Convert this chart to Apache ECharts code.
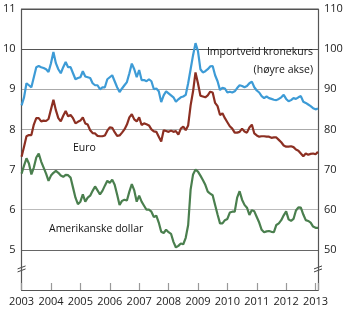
<!DOCTYPE html>
<html><head><meta charset="utf-8">
<script src="https://cdn.jsdelivr.net/npm/echarts@6/dist/echarts.min.js"></script>
<style>html,body{margin:0;padding:0;background:#fff}#c{width:350px;height:324px}</style>
</head><body><div id="c"></div>
<script>
// Monthly data, Jan 2003 .. Feb 2013
var startYear = 2003;
var yearTicks = [2003,2004,2005,2006,2007,2008,2009,2010,2011,2012,2013];
var leftTicks = [5,6,7,8,9,10,11];
var rightTicks = [50,60,70,80,90,100,110];
var importveid = [86,88,91.5,91,90.5,93,95.5,95.8,95.5,95.3,95,94.3,96.5,99.3,96.5,95,94,95.5,96.8,95.5,95.5,94,92.5,92.8,93,94.5,93.2,93,92.8,91.5,91,91,90,90.5,90.5,92.5,93,93.5,92,90.5,89.3,90.2,91,91.8,94,96.4,95,93,94.8,92.3,92.3,92,92.5,92,90,90.2,89.5,86.8,88.5,89.5,89,88.5,88,86.9,87.5,88,88.2,88.6,91.5,95,98.5,101.5,99.5,95,94.2,94.5,95,95.7,95.8,93.5,92,89.8,90.4,90.2,89.2,89.4,89.2,89.5,90.3,91,90.8,90.5,90.8,91.5,91.9,90.5,89.7,89.2,88.3,87.8,88.2,87.8,87.6,87.4,87.3,87.6,88,88.6,87.6,87,87.3,87.8,87.6,88,88.3,86.9,86.6,86.2,85.8,85.3,85,85.2];
var euro = [7.32,7.57,7.83,7.86,7.86,8.12,8.28,8.28,8.2,8.22,8.21,8.26,8.5,8.74,8.48,8.28,8.2,8.34,8.46,8.33,8.36,8.28,8.15,8.19,8.22,8.3,8.15,8.12,7.98,7.91,7.9,7.84,7.83,7.83,7.85,7.97,8.05,8.04,7.93,7.84,7.85,7.92,8.0,8.12,8.3,8.38,8.25,8.2,8.3,8.11,8.15,8.13,8.1,8.0,7.95,7.94,7.82,7.7,7.98,7.96,7.94,7.97,7.94,7.96,7.87,8.02,8.07,7.98,8.1,8.6,8.95,9.42,9.15,8.84,8.82,8.8,8.85,8.94,8.92,8.66,8.58,8.36,8.4,8.28,8.18,8.08,8.02,7.92,7.92,7.94,8.02,7.95,7.92,8.05,8.12,7.9,7.85,7.82,7.83,7.83,7.82,7.82,7.79,7.8,7.8,7.74,7.68,7.6,7.57,7.57,7.58,7.56,7.5,7.47,7.4,7.33,7.4,7.37,7.39,7.4,7.38,7.44];
var dollar = [6.9,7.1,7.28,7.15,6.88,7.05,7.3,7.4,7.2,7.05,6.9,6.72,6.85,6.92,6.97,6.92,6.85,6.82,6.87,6.86,6.8,6.55,6.3,6.14,6.2,6.38,6.2,6.3,6.35,6.47,6.58,6.48,6.38,6.47,6.6,6.72,6.67,6.75,6.62,6.38,6.12,6.22,6.25,6.23,6.45,6.64,6.48,6.2,6.35,6.2,6.1,6.0,6.0,5.95,5.82,5.85,5.68,5.45,5.42,5.5,5.44,5.4,5.2,5.06,5.1,5.16,5.14,5.3,5.62,6.5,6.88,7.0,6.95,6.85,6.74,6.62,6.45,6.4,6.36,6.12,5.88,5.66,5.66,5.74,5.77,5.93,5.95,5.95,6.3,6.46,6.25,6.12,6.05,5.87,5.99,5.96,5.82,5.68,5.5,5.44,5.46,5.47,5.45,5.44,5.62,5.66,5.74,5.86,5.96,5.76,5.72,5.77,5.98,6.06,6.05,5.88,5.74,5.72,5.68,5.58,5.55,5.55];

function toPairs(arr){ return arr.map(function(v,i){ return [startYear + i/12, v]; }); }
var xMax = startYear + (importveid.length-1)/12;
var FONT = 'Open Sans';
var chart = echarts.init(document.getElementById('c'), null, {renderer:'canvas'});
var gridColors = ['rgba(0,0,0,0)','#666','#bbb','#888','#aaa','#aaa','#555','#555'];
chart.setOption({
  animation:false,
  backgroundColor:'#fff',
  grid:{left:20,right:32,top:9,bottom:34},
  xAxis:{type:'value',min:startYear,max:xMax,interval:1,
    axisLine:{show:true,lineStyle:{color:'#555',width:1.2}},
    axisTick:{show:true,inside:true,length:7,lineStyle:{color:'#999',width:1.2}},
    axisLabel:{color:'#222',fontFamily:FONT,fontSize:11,margin:6,
      formatter:function(v){ return yearTicks.indexOf(Math.round(v))>=0 && Math.abs(v-Math.round(v))<1e-6 ? String(Math.round(v)) : ''; }},
    splitLine:{show:false}},
  yAxis:[{type:'value',min:4,max:11,interval:1,position:'left',
      axisLine:{show:true,lineStyle:{color:'#555',width:1.2}},
      axisTick:{show:false},
      axisLabel:{color:'#222',fontFamily:FONT,fontSize:11,margin:6,
        formatter:function(v){ return leftTicks.indexOf(v)>=0 ? String(v) : ''; }},
      splitLine:{show:true,lineStyle:{color:gridColors,width:1.2}}},
    {type:'value',min:40,max:110,interval:10,position:'right',
      axisLine:{show:true,lineStyle:{color:'#555',width:1.2}},
      axisTick:{show:false},
      axisLabel:{color:'#222',fontFamily:FONT,fontSize:11,margin:6,
        formatter:function(v){ return rightTicks.indexOf(v)>=0 ? String(v) : ''; }},
      splitLine:{show:false}}],
  series:[
    {name:'Importveid kronekurs',type:'line',yAxisIndex:1,data:toPairs(importveid),showSymbol:false,
      lineStyle:{color:'#3d9bd6',width:2.2},itemStyle:{color:'#3d9bd6'}},
    {name:'Euro',type:'line',yAxisIndex:0,data:toPairs(euro),showSymbol:false,
      lineStyle:{color:'#8c2f22',width:2.2},itemStyle:{color:'#8c2f22'}},
    {name:'Amerikanske dollar',type:'line',yAxisIndex:0,data:toPairs(dollar),showSymbol:false,
      lineStyle:{color:'#4a7f4e',width:2.2},itemStyle:{color:'#4a7f4e'}}
  ]
});
// top border line, axis-break marks, and series labels
var topY = chart.convertToPixel({yAxisIndex:0}, 11);
var brkY = chart.convertToPixel({yAxisIndex:0}, 4.5);
var lx = chart.convertToPixel({xAxisIndex:0}, startYear);
var rx = chart.convertToPixel({xAxisIndex:0}, xMax);
function brk(x){
  return [
    {type:'rect',shape:{x:x-4,y:brkY-3,width:8,height:5},style:{fill:'#fff'}},
    {type:'line',shape:{x1:x-4,y1:brkY-1,x2:x+4,y2:brkY-4},style:{stroke:'#444',lineWidth:1}},
    {type:'line',shape:{x1:x-4,y1:brkY+2,x2:x+4,y2:brkY-1},style:{stroke:'#444',lineWidth:1}}
  ];
}
var g = [{type:'line',shape:{x1:lx,y1:topY,x2:rx,y2:topY},style:{stroke:'#555',lineWidth:1.2}}]
  .concat(brk(lx)).concat(brk(rx));
var txt = {fontFamily:FONT,fontSize:10.5,fill:'#111'};
g.push({type:'text',x:313,y:52,style:Object.assign({text:'Importveid kronekurs',align:'right',verticalAlign:'middle'},txt)});
g.push({type:'text',x:313,y:70,style:Object.assign({text:'(høyre akse)',align:'right',verticalAlign:'middle'},txt)});
g.push({type:'text',x:73,y:148,style:Object.assign({text:'Euro',align:'left',verticalAlign:'middle'},txt)});
g.push({type:'text',x:49,y:229,style:Object.assign({text:'Amerikanske dollar',align:'left',verticalAlign:'middle'},txt)});
chart.setOption({graphic:g});
</script></body></html>
